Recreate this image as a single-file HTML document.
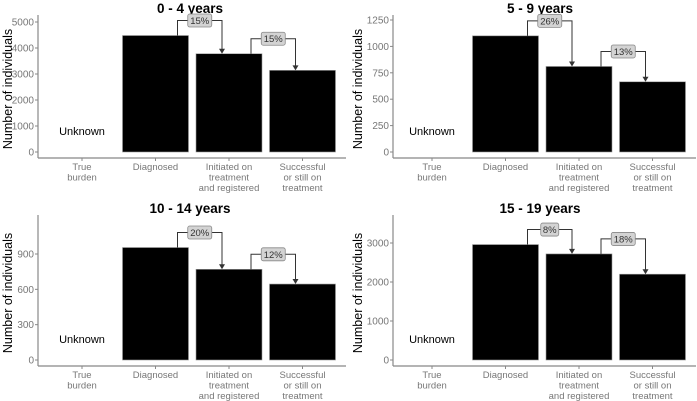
<!DOCTYPE html>
<html><head><meta charset="utf-8">
<style>
html,body{margin:0;padding:0;background:#fff;}
svg{display:block;font-family:"Liberation Sans",Arial,sans-serif;}
</style></head>
<body>
<svg id="chart" width="697" height="401" viewBox="0 0 697 401"></svg>
<script>
const categories = ["True\nburden", "Diagnosed", "Initiated on\ntreatment\nand registered", "Successful\nor still on\ntreatment"];
const panelTitles = ["0 - 4 years", "5 - 9 years", "10 - 14 years", "15 - 19 years"];
const values04 = [null, 4480, 3780, 3140];
const values59 = [null, 1100, 810, 665];
const values1014 = [null, 955, 770, 645];
const values1519 = [null, 2960, 2720, 2200];
const pct04 = ["15%", "15%"];
const pct59 = ["26%", "13%"];
const pct1014 = ["20%", "12%"];
const pct1519 = ["8%", "18%"];
const ticks04 = [0, 1000, 2000, 3000, 4000, 5000];
const ticks59 = [0, 250, 500, 750, 1000, 1250];
const ticks1014 = [0, 300, 600, 900];
const ticks1519 = [0, 1000, 2000, 3000];

const NS = "http://www.w3.org/2000/svg";
const svg = document.getElementById("chart");
function mk(tag, attrs, parent) {
  const e = document.createElementNS(NS, tag);
  for (const k in attrs) e.setAttribute(k, attrs[k]);
  (parent || svg).appendChild(e);
  return e;
}

const layouts = [
  {ox: 0, oy: 0, axisX: 38, zeroY: 152, topTick: 22, firstC: 82, vals: values04, pct: pct04, ticks: ticks04, title: panelTitles[0], key: "0-4"},
  {ox: 350, oy: 0, axisX: 393, zeroY: 152, topTick: 20, firstC: 432, vals: values59, pct: pct59, ticks: ticks59, title: panelTitles[1], key: "5-9"},
  {ox: 0, oy: 200, axisX: 38, zeroY: 360, topTick: 254, firstC: 82, vals: values1014, pct: pct1014, ticks: ticks1014, title: panelTitles[2], key: "10-14"},
  {ox: 350, oy: 200, axisX: 393, zeroY: 360, topTick: 243, firstC: 432, vals: values1519, pct: pct1519, ticks: ticks1519, title: panelTitles[3], key: "15-19"}
];

layouts.forEach(function (L) {
  const g = mk("g", {});
  
  
  const maxT = L.ticks[L.ticks.length - 1];
  const yScale = function (v) { return L.zeroY - (L.zeroY - L.topTick) * v / maxT; };
  const band = 73.5;
  const xC = function (i) { return L.firstC + i * band; };
  const barW = 66;
  const axisBottom = L.zeroY + 6;
  const panelCenter = L.ox + 190;

  const t = mk("text", {x: panelCenter, y: L.oy + 13, "text-anchor": "middle", "font-size": "13.5", "font-weight": "bold", fill: "#000"}, g);
  t.textContent = L.title;
  
  

  const yt = mk("text", {transform: "translate(" + (L.ox + 12) + "," + ((L.oy + 10 + axisBottom) / 2 + 5) + ") rotate(-90)", "text-anchor": "middle", "font-size": "12.5", fill: "#000"}, g);
  yt.textContent = "Number of individuals";
  
  

  const ya = mk("line", {x1: L.axisX, y1: L.oy + 15, x2: L.axisX, y2: axisBottom, stroke: "#888", "stroke-width": 1.2}, g);
  
  
  const xa = mk("line", {x1: L.axisX, y1: axisBottom, x2: L.ox + 346, y2: axisBottom, stroke: "#888", "stroke-width": 1.2}, g);
  
  

  L.ticks.forEach(function (tv) {
    const y = yScale(tv);
    const tk = mk("line", {x1: L.axisX - 3, y1: y, x2: L.axisX, y2: y, stroke: "#888"}, g);
    
    
    const tl = mk("text", {x: L.axisX - 4, y: y + 3.5, "text-anchor": "end", "font-size": "10", fill: "#777"}, g);
    tl.textContent = tv;
    
    
  });

  categories.forEach(function (c, i) {
    const x = xC(i);
    const tk = mk("line", {x1: x, y1: axisBottom, x2: x, y2: axisBottom + 3, stroke: "#888"}, g);
    
    
    const lbl = mk("text", {x: x, y: axisBottom + 12, "text-anchor": "middle", "font-size": "9.5", fill: "#777"}, g);
    
    
    c.split("\n").forEach(function (ln, j) {
      const ts = mk("tspan", {x: x, dy: j === 0 ? 0 : 10.5}, lbl);
      ts.textContent = ln;
    });
    const v = L.vals[i];
    if (v === null) {
      const u = mk("text", {x: x, y: L.zeroY - 17, "text-anchor": "middle", "font-size": "11", fill: "#000"}, g);
      u.textContent = "Unknown";
      
      
    } else {
      const b = mk("rect", {x: x - barW / 2, y: yScale(v), width: barW, height: L.zeroY - yScale(v), fill: "#000", stroke: "#999", "stroke-width": 0.6}, g);
      
      
    }
  });

  for (let k = 0; k < L.pct.length; k++) {
    const i = k + 1;
    const x1 = xC(i) + 22, x2 = xC(i + 1) - 7;
    const yTop = yScale(L.vals[i]);
    const yNext = yScale(L.vals[i + 1]);
    const lvl = yTop - 15;
    const p = mk("path", {d: "M" + x1 + "," + yTop + " V" + lvl + " H" + x2 + " V" + (yNext - 1), fill: "none", stroke: "#333", "stroke-width": 1}, g);
    
    
    const ah = mk("path", {d: "M" + (x2 - 3) + "," + (yNext - 5) + " L" + x2 + "," + (yNext) + " L" + (x2 + 3) + "," + (yNext - 5) + " Z", fill: "#333"}, g);
    
    
    const mx = (x1 + x2) / 2;
    const bw = L.pct[k].length > 2 ? 24 : 18;
    const box = mk("rect", {x: mx - bw / 2, y: lvl - 6.5, width: bw, height: 13, rx: 2, fill: "#d3d3d3", stroke: "#888", "stroke-width": 0.8}, g);
    
    
    const tx = mk("text", {x: mx, y: lvl + 3.5, "text-anchor": "middle", "font-size": "9.5", fill: "#333"}, g);
    tx.textContent = L.pct[k];
    
    
  }
});
</script>
</body></html>
